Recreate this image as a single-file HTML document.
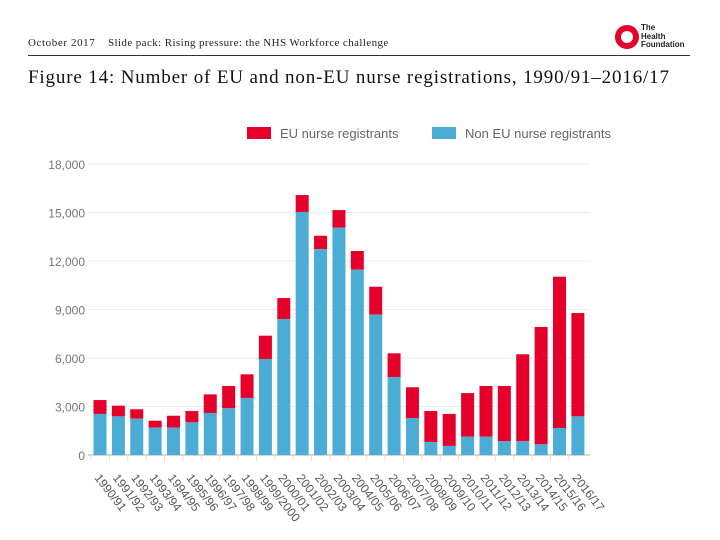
<!DOCTYPE html>
<html><head><meta charset="utf-8"><style>
body{margin:0;width:720px;height:540px;background:#fff;overflow:hidden;font-family:"Liberation Serif",serif}
.hdr{position:absolute;top:37px;font-size:11px;color:#222}
</style></head><body>
<div class="hdr" style="left:28px;letter-spacing:0.6px">October 2017</div>
<div class="hdr" style="left:108px;letter-spacing:0.4px">Slide pack: Rising pressure: the NHS Workforce challenge</div>
<div style="position:absolute;left:615px;top:25px;width:24px;height:24px;border-radius:50%;border:6px solid #e4002b;box-sizing:border-box"></div>
<div style="position:absolute;left:641px;top:24px;font:bold 8px/8.5px 'Liberation Sans',sans-serif;color:#222">The<br>Health<br>Foundation</div>
<div style="position:absolute;left:28px;top:55px;width:662px;height:1px;background:#333"></div>
<div style="position:absolute;left:28px;top:67px;font-size:19px;letter-spacing:0.85px;color:#111">Figure 14: Number of EU and non-EU nurse registrations, 1990/91–2016/17</div>
<svg id="chart" width="720" height="540" style="position:absolute;left:0;top:0"></svg>
<script>
const categories=["1990/91","1991/92","1992/93","1993/94","1994/95","1995/96","1996/97","1997/98","1998/99","1999/2000","2000/01","2001/02","2002/03","2003/04","2004/05","2005/06","2006/07","2007/08","2008/09","2009/10","2010/11","2011/12","2012/13","2013/14","2014/15","2015/16","2016/17"];
const nonEU=[2540,2390,2250,1690,1690,2020,2600,2890,3530,5940,8410,15030,12740,14060,11460,8680,4820,2290,800,560,1130,1130,850,850,660,1670,2390];
const totals=[3400,3050,2830,2120,2430,2720,3750,4270,4990,7380,9710,16080,13560,15150,12620,10410,6290,4190,2720,2540,3830,4270,4270,6230,7920,11030,8780];
const yTicks=[0,3000,6000,9000,12000,15000,18000];
const svg=document.getElementById('chart');const NS='http://www.w3.org/2000/svg';
const y=v=>455-v*(291/18000);const x=i=>100+i*18.38;
function mk(t,a){const e=document.createElementNS(NS,t);for(const k in a)e.setAttribute(k,a[k]);svg.appendChild(e);return e;}
yTicks.forEach(t=>{
 if(t>0){const g=mk('line',{x1:88,x2:590,y1:y(t),y2:y(t),stroke:'#ececec'});
 
 }
 const l=mk('text',{x:85,y:y(t)+5,'text-anchor':'end','font-size':12,fill:'#777','font-family':'Liberation Sans,sans-serif'});l.textContent=t.toLocaleString('en-US');
 
 
});
const ax=mk('line',{x1:88,x2:590,y1:455,y2:455,stroke:'#aaa'});


categories.forEach((c,i)=>{
 const cx=x(i);
 const eu=mk('rect',{x:cx-6.5,y:y(totals[i]),width:13,height:y(nonEU[i])-y(totals[i]),fill:'#e4002b'});
 
 
 const ne=mk('rect',{x:cx-6.5,y:y(nonEU[i]),width:13,height:455-y(nonEU[i]),fill:'#4badd6'});
 
 
 const tk=mk('line',{x1:cx-9,x2:cx-9,y1:455,y2:461,stroke:'#ddd'});
 
 
 const t=mk('text',{x:cx-6,y:478,'font-size':12,fill:'#555','font-family':'Liberation Sans,sans-serif',transform:`rotate(52 ${cx-6} 478)`});t.textContent=c;
 
 
});
const legend=[['#e4002b','EU nurse registrants',247],['#4badd6','Non EU nurse registrants',432]];
legend.forEach(([c,n,lx])=>{
 const r=mk('rect',{x:lx,y:127,width:24,height:12,fill:c});
 
 
 const t=mk('text',{x:lx+33,y:138,'font-size':13,fill:'#666','font-family':'Liberation Sans,sans-serif'});t.textContent=n;
 
 
});
</script>
</body></html>
